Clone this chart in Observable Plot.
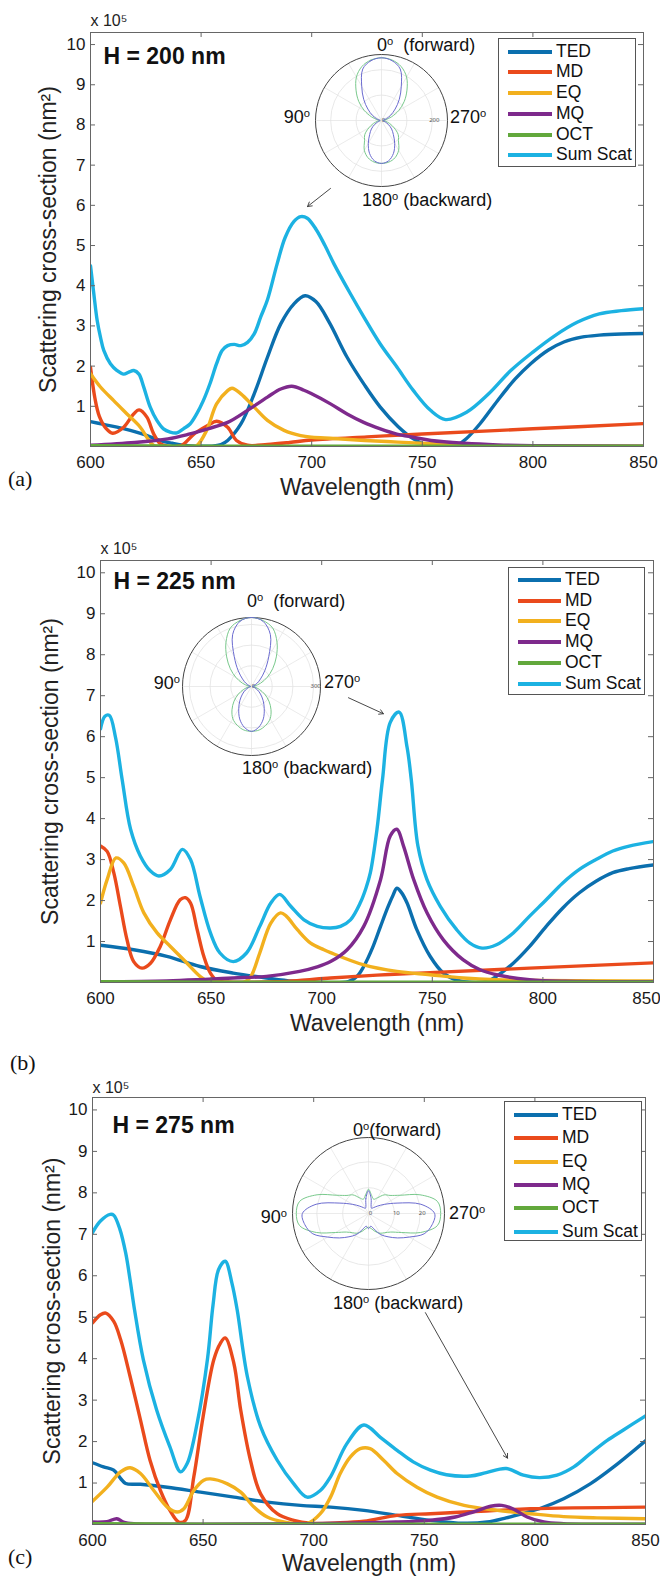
<!DOCTYPE html>
<html>
<head>
<meta charset="utf-8">
<script src="https://cdn.jsdelivr.net/npm/d3@7"></script>
<script src="https://cdn.jsdelivr.net/npm/@observablehq/plot@0.6"></script>
<style>
body{margin:0;background:#fff;}
#fig{position:relative;width:660px;height:1578px;overflow:hidden;font-family:"Liberation Sans",Arial,sans-serif;color:#111;}
.lbl{position:absolute;font-size:18px;white-space:nowrap;line-height:1;transform:translateY(-50%);}
.lbl.r{transform:translate(-100%,-50%);}
.deg{font-size:0.62em;position:relative;top:-0.55em;}
.pl{position:absolute;font-family:"Liberation Serif","DejaVu Serif",serif;font-size:22px;line-height:1;transform:translateY(-50%);}
.legend{position:absolute;border:1px solid #555;background:#fff;box-sizing:border-box;}
.sw{position:absolute;height:4px;transform:translateY(-50%);}
.tx{position:absolute;font-size:17.5px;line-height:1;transform:translateY(-50%);white-space:nowrap;}
</style>
</head>
<body>
<div id="fig"></div>
<script>
// ---------- categories, ticks ----------
const names = ["TED","MD","EQ","MQ","OCT","Sum Scat"];
const colors = ["#0b6fae","#ea4a1c","#f2b01e","#7e2a8c","#62a83c","#1cb2e2"];
const xTicks = [600,650,700,750,800,850];
const yTicks = [1,2,3,4,5,6,7,8,9,10];
const panelTitles = ["H = 200 nm","H = 225 nm","H = 275 nm"];
const panelLetters = ["(a)","(b)","(c)"];

// ---------- panel (a) H = 200 nm : [wavelength nm, value x1e5 nm^2] ----------
const a_TED = [[600,0.62],[606,0.55],[612,0.48],[618,0.4],[623,0.32],[628,0.22],[632,0.14],[637,0.08],[641,0.04],[648,0.01],[655,0.01],[659,0.05],[662,0.15],[668,0.56],[674,1.31],[680,2.22],[686,3.05],[692,3.55],[697,3.75],[702,3.6],[708,3.08],[716,2.22],[724,1.52],[731,0.98],[739,0.5],[746,0.19],[752,0.04],[760,0.0],[766,0.05],[770,0.2],[776,0.56],[784,1.14],[792,1.68],[799,2.06],[807,2.4],[814,2.6],[822,2.72],[830,2.77],[840,2.8],[850,2.81]];
const a_MD = [[600,1.97],[602,1.2],[604,0.75],[607,0.45],[610,0.33],[615,0.48],[619.5,0.81],[622,0.91],[625.5,0.73],[628.5,0.32],[631.5,0.07],[635,0.01],[641,0.02],[647,0.32],[653,0.52],[657,0.63],[662,0.48],[666,0.15],[671,0.03],[680,0.05],[690,0.1],[700,0.16],[725,0.24],[750,0.31],[800,0.44],[850,0.57]];
const a_EQ = [[600,1.81],[604.5,1.48],[610.5,1.14],[616.5,0.81],[622.5,0.48],[626,0.19],[628.5,0.03],[635,0.0],[645,0.0],[648,0.02],[652.5,0.4],[657,1.06],[662,1.39],[664,1.45],[668,1.31],[674,0.98],[680,0.65],[687.5,0.4],[695,0.27],[700,0.23],[710,0.2],[724,0.15],[739,0.11],[754,0.07],[770,0.04],[790,0.02],[850,0.01]];
const a_MQ = [[600,0.03],[620,0.1],[635,0.19],[644,0.3],[653,0.44],[662,0.6],[671,0.9],[680,1.23],[686,1.43],[691,1.5],[696.5,1.4],[700,1.31],[708.5,1.06],[716,0.81],[723.5,0.6],[731,0.44],[738.5,0.31],[746,0.23],[754,0.15],[769,0.08],[784,0.04],[800,0.02],[850,0.01]];
const a_OCT = [[600,0.02],[650,0.01],[700,0.01],[750,0.01],[800,0.01],[850,0.01]];
const a_Sum = [[600,4.5],[601.5,3.8],[603,3.14],[604.5,2.72],[606,2.39],[609,2.06],[612,1.89],[615,1.8],[617.3,1.85],[619.6,1.89],[621.9,1.8],[624,1.49],[627,0.98],[630,0.65],[633,0.44],[636,0.36],[639,0.34],[642,0.44],[645,0.56],[648,0.81],[651,1.14],[654,1.56],[657,2.06],[659.5,2.39],[662,2.51],[665,2.54],[668,2.51],[671,2.59],[674,2.8],[677,3.23],[680,3.65],[684.4,4.55],[688,5.2],[692,5.6],[695,5.72],[698,5.68],[702,5.4],[706,5.0],[710,4.55],[717.5,3.8],[723.6,3.22],[731,2.55],[738.6,1.97],[746,1.39],[753.7,0.9],[760.5,0.67],[770,0.85],[780,1.31],[790,1.89],[800,2.35],[810,2.76],[820,3.09],[830,3.3],[840,3.38],[850,3.43]];

// ---------- panel (b) H = 225 nm ----------
const b_TED = [[600,0.91],[615,0.8],[630,0.64],[645,0.39],[660,0.23],[675,0.11],[687,0.03],[700,0.0],[712,0.02],[716,0.15],[719,0.39],[723,0.85],[726.6,1.37],[730,1.85],[732,2.1],[734,2.3],[736,2.2],[738.6,1.94],[743,1.29],[749,0.64],[755,0.23],[761,0.06],[768,0.0],[775,0.03],[779,0.15],[786.6,0.47],[794,0.88],[801.5,1.37],[809,1.82],[816.5,2.19],[824,2.47],[831.6,2.68],[839,2.78],[850,2.87]];
const b_MD = [[600,3.33],[603,3.2],[606,2.68],[609,1.86],[612,1.04],[615,0.51],[618.8,0.35],[622.6,0.47],[627,0.88],[631.6,1.53],[636,2.02],[638.4,2.07],[640.7,1.94],[643.7,1.29],[646.7,0.64],[649.7,0.23],[652.7,0.05],[660,0.01],[680,0.02],[690,0.05],[704,0.11],[725,0.18],[749,0.24],[794,0.35],[850,0.48]];
const b_EQ = [[600,1.94],[603,2.51],[607,3.04],[610.5,2.92],[615,2.35],[619.6,1.7],[625.6,1.21],[631.6,0.88],[637.7,0.55],[645,0.15],[648,0.05],[655,0.0],[665,0.01],[668,0.15],[672,0.72],[677,1.45],[681.4,1.7],[684,1.62],[689,1.29],[695,0.96],[701,0.8],[704,0.73],[719,0.43],[734,0.27],[749,0.19],[764,0.11],[779,0.07],[850,0.04]];
const b_MQ = [[600,0.02],[630,0.04],[645,0.07],[660,0.11],[675,0.15],[690,0.27],[698,0.38],[704,0.51],[711.5,0.8],[719,1.37],[726.6,2.51],[731,3.58],[734,3.74],[737,3.33],[741.6,2.51],[747.6,1.7],[755,1.04],[764,0.55],[771.6,0.31],[779,0.19],[794,0.07],[810,0.03],[850,0.02]];
const b_OCT = [[600,0.02],[650,0.01],[700,0.01],[750,0.01],[800,0.01],[850,0.01]];
const b_Sum = [[600,6.19],[602,6.5],[604,6.52],[606.8,5.98],[609.8,4.95],[613.6,3.74],[618,3.09],[622.6,2.72],[626.4,2.6],[631.6,2.76],[637,3.25],[640.7,3.0],[645,2.1],[649.7,1.21],[654,0.72],[660,0.51],[666,0.72],[672,1.37],[677,1.94],[681,2.15],[686,1.86],[692,1.53],[698,1.37],[704,1.33],[708.5,1.37],[713,1.53],[717.5,1.95],[720,2.3],[722,2.68],[725,3.74],[727.5,4.96],[731,6.35],[735,6.6],[738.6,5.74],[740.5,4.95],[743.5,3.33],[747.6,2.51],[753.6,1.86],[761,1.29],[767,0.96],[772.5,0.84],[779,0.92],[786.6,1.21],[794,1.62],[801.5,2.02],[809,2.43],[816.5,2.76],[824,3.0],[831.6,3.21],[839,3.33],[850,3.44]];

// ---------- panel (c) H = 275 nm ----------
const c_TED = [[600,1.49],[605,1.39],[609.6,1.31],[612.7,1.11],[615,0.99],[621.7,0.97],[633.8,0.9],[648.8,0.78],[664,0.66],[679,0.54],[694,0.46],[707.6,0.42],[722.7,0.34],[737.7,0.22],[752.8,0.1],[768,0.03],[778.4,0.06],[787,0.16],[794.8,0.27],[802,0.38],[813,0.62],[825,0.98],[835.6,1.39],[850,2.02]];
const c_MD = [[600,4.86],[603.6,5.06],[606,5.1],[609.6,4.9],[612.7,4.46],[617,3.57],[621.7,2.52],[626,1.55],[630.7,0.82],[635,0.34],[639,0.06],[642,0.1],[645.8,1.15],[650,2.6],[654.8,3.97],[657.8,4.37],[660,4.5],[663.9,3.89],[667,2.76],[671.4,1.55],[676,0.74],[683.5,0.26],[691,0.1],[698.5,0.03],[710,0.04],[722.7,0.08],[737.7,0.22],[752.8,0.26],[768,0.3],[783,0.34],[798,0.38],[850,0.42]];
const c_EQ = [[600,0.56],[606.6,0.9],[612.7,1.27],[617,1.37],[621.7,1.23],[627.7,0.82],[633.8,0.42],[638.3,0.3],[641.3,0.38],[645.8,0.82],[650.3,1.07],[653.3,1.1],[661,0.98],[667,0.78],[673,0.42],[679,0.18],[686.5,0.06],[697,0.02],[703,0.26],[707.6,0.66],[712,1.23],[716.6,1.63],[721,1.83],[725.5,1.83],[731.6,1.55],[737.7,1.23],[746.7,0.9],[755.8,0.66],[768,0.46],[783,0.34],[798,0.26],[813,0.19],[828,0.16],[850,0.14]];
const c_MQ = [[600,0.06],[606.6,0.07],[611,0.14],[614,0.06],[618.7,0.02],[650,0.01],[700,0.02],[737,0.06],[752,0.1],[764,0.18],[772,0.3],[780,0.44],[785,0.46],[790,0.38],[796.5,0.18],[804,0.06],[813,0.02],[850,0.01]];
const c_OCT = [[600,0.02],[650,0.01],[700,0.01],[750,0.01],[800,0.01],[850,0.01]];
const c_Sum = [[600,7.04],[603.6,7.32],[608,7.48],[609.6,7.46],[612.4,7.12],[615,6.55],[617,5.9],[619,5.18],[623,3.97],[629,2.76],[635,1.87],[639.8,1.27],[642.8,1.47],[647.3,2.44],[652,4.0],[654.5,5.3],[657,6.15],[660,6.35],[663,5.83],[665.4,5.18],[670,3.57],[676,2.36],[683.5,1.55],[691,0.98],[697,0.66],[703,0.82],[707.6,1.15],[715,1.95],[722.7,2.4],[730,2.11],[737.7,1.79],[745,1.51],[752.8,1.31],[760,1.2],[770.8,1.17],[778,1.25],[787,1.35],[794.8,1.19],[802,1.13],[810,1.19],[817.6,1.39],[825,1.71],[832.7,2.03],[840,2.28],[850,2.62]];

// ---------- annotation arrows (data units) ----------
const a_arrow = [{x1:708.5,y1:6.42,x2:698.1,y2:5.97}];
const b_arrow = [{x1:712.1,y1:6.95,x2:727.9,y2:6.56}];
const c_arrow = [{x1:750.5,y1:5.11,x2:787.6,y2:1.6}];

// ---------- polar insets: normalised radius at 0..180 deg, step 10 (0 = forward, top) ----------
const polarAngles = [0,10,20,30,40,50,60,70,80,90,100,110,120,130,140,150,160,170,180];
const a_polarBlue  = [0.95,0.92,0.83,0.6,0.42,0.27,0.16,0.08,0.03,0.02,0.03,0.06,0.12,0.2,0.28,0.4,0.53,0.62,0.65];
const a_polarGreen = [0.95,0.93,0.87,0.76,0.6,0.45,0.3,0.16,0.06,0.02,0.06,0.13,0.22,0.33,0.4,0.52,0.6,0.64,0.65];
const b_polarBlue  = [1.0,0.96,0.8,0.5,0.3,0.17,0.09,0.04,0.02,0.01,0.02,0.05,0.1,0.17,0.26,0.37,0.5,0.6,0.65];
const b_polarGreen = [1.0,0.97,0.9,0.74,0.56,0.4,0.26,0.14,0.05,0.01,0.05,0.12,0.22,0.33,0.44,0.54,0.6,0.64,0.65];
const c_polarBlue  = [0.3,0.2,0.1,0.08,0.1,0.15,0.24,0.4,0.7,0.87,0.85,0.78,0.62,0.5,0.4,0.32,0.22,0.17,0.2];
const c_polarGreen = [0.32,0.24,0.2,0.24,0.32,0.37,0.48,0.72,0.92,0.95,0.92,0.73,0.5,0.38,0.33,0.3,0.25,0.2,0.18];
const spokeAngles = [0,30,60,90,120,150,180,210,240,270,300,330];
const a_rings = [{r:0,t:"0"},{r:0.385,t:""},{r:0.77,t:"200"}];
const b_rings = [{r:0,t:"0"},{r:0.3,t:""},{r:0.6,t:""},{r:0.9,t:"300"}];
const c_rings = [{r:0,t:"0"},{r:0.34,t:"10"},{r:0.68,t:"20"}];

// ---------- layout ----------
const panels = [
  {series:[a_TED,a_MD,a_EQ,a_MQ,a_OCT,a_Sum], arrow:a_arrow, left:90, right:643, top:32, bottom:446, lastDx:0,
   tdx:13, tdy:24, ydx:-42, xdy:41, expdy:-12, letter:{x:8,y:479},
   legend:{x:498,y:38,w:138,h:129,first:13.7,step:20.7,sx:9,sw:44,tx:58},
   inset:{cx:381,cy:120,R:66,blue:a_polarBlue,green:a_polarGreen,rings:a_rings,
     labels:[{t:"0",s:"  (forward)",x:377,y:45},{t:"90",s:"",x:310,y:117,r:true},{t:"270",s:"",x:450,y:117},{t:"180",s:" (backward)",x:362,y:200}]}},
  {series:[b_TED,b_MD,b_EQ,b_MQ,b_OCT,b_Sum], arrow:b_arrow, left:100, right:653, top:560, bottom:982, lastDx:-7,
   tdx:13, tdy:21, ydx:-50, xdy:41, expdy:-12, letter:{x:10,y:1063},
   legend:{x:508,y:567,w:137,h:128,first:13,step:20.7,sx:9,sw:43,tx:57},
   inset:{cx:251,cy:686,R:69,blue:b_polarBlue,green:b_polarGreen,rings:b_rings,
     labels:[{t:"0",s:"  (forward)",x:247,y:601},{t:"90",s:"",x:180,y:683,r:true},{t:"270",s:"",x:324,y:682},{t:"180",s:" (backward)",x:242,y:768}]}},
  {series:[c_TED,c_MD,c_EQ,c_MQ,c_OCT,c_Sum], arrow:c_arrow, left:92, right:645, top:1097, bottom:1524, lastDx:0,
   tdx:20, tdy:28, ydx:-40, xdy:39, expdy:-10, letter:{x:8,y:1557},
   legend:{x:504,y:1101,w:138,h:140,first:14,step:23.3,sx:9,sw:44,tx:58},
   inset:{cx:368,cy:1213,R:76,blue:c_polarBlue,green:c_polarGreen,rings:c_rings,
     labels:[{t:"0",s:"(forward)",x:353,y:1130},{t:"90",s:"",x:287,y:1217,r:true},{t:"270",s:"",x:449,y:1213},{t:"180",s:" (backward)",x:333,y:1303}]}}
];

const fig = document.getElementById("fig");
const FONT = '"Liberation Sans", Arial, sans-serif';
const frameColor = "#666";

function addDiv(cls, html, css) {
  const d = document.createElement("div");
  d.className = cls; d.innerHTML = html;
  Object.assign(d.style, css);
  fig.appendChild(d);
  return d;
}

panels.forEach((p, k) => {
  const mt = 32, mb = 54;
  const boxW = p.right - p.left, boxH = p.bottom - p.top;
  const rows = names.flatMap((n, i) => p.series[i].map(([w, v]) => ({s: n, w, v})));
  const svg = Plot.plot({
    width: 660, height: boxH + mt + mb,
    marginTop: mt, marginBottom: mb, marginLeft: p.left, marginRight: 660 - p.right,
    x: {domain: [600, 850]},
    y: {domain: [0, 10.3]},
    color: {domain: names, range: colors},
    style: {fontFamily: FONT, fontSize: "17px", color: "#1a1a1a", background: "none", overflow: "visible"},
    marks: [
      Plot.axisX(xTicks.slice(0, -1), {tickSize: 0, tickPadding: 9, label: null, fontSize: 17}),
      Plot.axisX(xTicks.slice(-1), {tickSize: 0, tickPadding: 9, label: null, fontSize: 17, dx: p.lastDx}),
      Plot.axisY(yTicks, {tickSize: 0, tickPadding: 5, label: null, fontSize: 17}),
      Plot.line(rows, {x: "w", y: "v", z: "s", stroke: "s", strokeWidth: 3.4, curve: "catmull-rom", clip: true}),
      Plot.frame({stroke: frameColor, strokeWidth: 1}),
      Plot.tickX(xTicks, {x: d => d, insetTop: boxH - 5, stroke: frameColor}),
      Plot.tickX(xTicks, {x: d => d, insetBottom: boxH - 5, stroke: frameColor}),
      Plot.tickY(yTicks, {y: d => d, insetRight: boxW - 5, stroke: frameColor}),
      Plot.tickY(yTicks, {y: d => d, insetLeft: boxW - 5, stroke: frameColor}),
      Plot.arrow(p.arrow, {x1: "x1", y1: "y1", x2: "x2", y2: "y2", stroke: "#333", strokeWidth: 0.9, headLength: 8}),
      Plot.text([panelTitles[k]], {text: d => d, frameAnchor: "top-left", dx: p.tdx, dy: p.tdy, fontSize: 23, fontWeight: "bold", textAnchor: "start", lineAnchor: "middle", fill: "#111"}),
      Plot.text(["x 10\u2075"], {text: d => d, frameAnchor: "top-left", dy: p.expdy, fontSize: 16, textAnchor: "start", lineAnchor: "middle", fill: "#222"}),
      Plot.text(["Scattering cross-section (nm\u00B2)"], {text: d => d, frameAnchor: "left", dx: p.ydx, rotate: -90, fontSize: 23, textAnchor: "middle", lineAnchor: "middle", fill: "#222"}),
      Plot.text(["Wavelength (nm)"], {text: d => d, frameAnchor: "bottom", dy: p.xdy, fontSize: 23, textAnchor: "middle", lineAnchor: "middle", fill: "#222"})
    ]
  });
  svg.style.position = "absolute";
  svg.style.left = "0px";
  svg.style.top = (p.top - mt) + "px";
  fig.appendChild(svg);

  // panel letter
  addDiv("pl", panelLetters[k], {left: p.letter.x + "px", top: p.letter.y + "px"});

  // legend
  const L = p.legend;
  const lg = addDiv("legend", "", {left: L.x + "px", top: L.y + "px", width: L.w + "px", height: L.h + "px"});
  names.forEach((n, i) => {
    const yy = L.first + i * L.step - 1;
    const sw = document.createElement("div");
    sw.className = "sw";
    Object.assign(sw.style, {left: L.sx + "px", top: yy + "px", width: L.sw + "px", background: colors[i]});
    lg.appendChild(sw);
    const tx = document.createElement("div");
    tx.className = "tx"; tx.textContent = n;
    Object.assign(tx.style, {left: (L.tx - 1) + "px", top: yy + "px"});
    lg.appendChild(tx);
  });

  // polar inset
  const I = p.inset, R = I.R, pad = 3, S = 2 * (R + pad);
  const toPts = radii => {
    const full = radii.concat(radii.slice(1, -1).reverse());
    const ang = polarAngles.concat(polarAngles.slice(1, -1).map(a => 360 - a).reverse());
    return full.map((r, i) => ({x: -r * Math.sin(ang[i] * Math.PI / 180), y: r * Math.cos(ang[i] * Math.PI / 180)}));
  };
  const ringMarks = I.rings.filter(d => d.r > 0).map(d =>
    Plot.dot([{x: 0, y: 0}], {x: "x", y: "y", r: d.r * R, stroke: "#e2e2e2", strokeWidth: 0.8, fill: "none"}));
  const isvg = Plot.plot({
    width: S, height: S, margin: pad,
    x: {domain: [-1, 1], axis: null}, y: {domain: [-1, 1], axis: null},
    style: {background: "none", overflow: "visible"},
    marks: [
      Plot.dot([{x: 0, y: 0}], {x: "x", y: "y", r: R, fill: "white", stroke: "none"}),
      Plot.link(spokeAngles, {x1: () => 0, y1: () => 0, x2: a => Math.sin(a * Math.PI / 180), y2: a => Math.cos(a * Math.PI / 180), stroke: "#e6e6e6", strokeWidth: 0.8}),
      ...ringMarks,
      Plot.dot([{x: 0, y: 0}], {x: "x", y: "y", r: R, fill: "none", stroke: "#444", strokeWidth: 1}),
      Plot.text(I.rings, {x: d => d.r, y: () => 0, text: "t", fontSize: 6, fill: "#555", dx: 2}),
      Plot.line(toPts(I.green), {x: "x", y: "y", curve: "catmull-rom-closed", stroke: "#79c98c", strokeWidth: 1}),
      Plot.line(toPts(I.blue), {x: "x", y: "y", curve: "catmull-rom-closed", stroke: "#6b6bd0", strokeWidth: 1})
    ]
  });
  isvg.style.position = "absolute";
  isvg.style.left = (I.cx - R - pad) + "px";
  isvg.style.top = (I.cy - R - pad) + "px";
  fig.appendChild(isvg);

  I.labels.forEach(l => {
    addDiv("lbl" + (l.r ? " r" : ""), l.t + '<span class="deg">o</span>' + l.s.replace(/ /g, "&nbsp;"), {left: l.x + "px", top: l.y + "px"});
  });
});
</script>
</body>
</html>
